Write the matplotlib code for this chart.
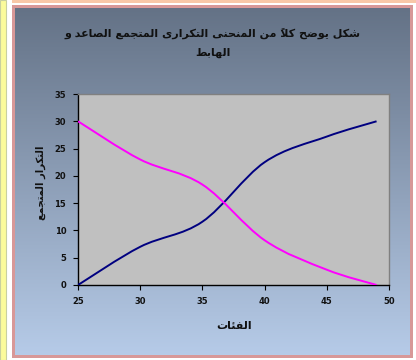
import numpy as np
import matplotlib
matplotlib.use("Agg")
import matplotlib.pyplot as plt
from matplotlib.path import Path
from matplotlib.patches import PathPatch, Rectangle

# ---------------- data ----------------
classes = [25, 30, 35, 40, 45, 49]
ascending = [0, 7, 11.6, 22.5, 27.2, 30]
descending = [30, 23, 18.4, 8.2, 2.8, 0]
x_ticks = [25, 30, 35, 40, 45, 50]
y_ticks = [0, 5, 10, 15, 20, 25, 30, 35]
title_lines = ["شكل يوضح كلاً من المنحنى التكرارى المتجمع الصاعد و", "الهابط"]
y_label = "التكرار المتجمع"
x_label = "الفئات"

# ---------------- simple Arabic shaping (presentation forms + visual order) ----------------
FORMS = {  # iso, fin, ini, med
    'ا': (0xFE8D, 0xFE8E, None, None),
    'أ': (0xFE83, 0xFE84, None, None),
    'ب': (0xFE8F, 0xFE90, 0xFE91, 0xFE92),
    'ة': (0xFE93, 0xFE94, None, None),
    'ت': (0xFE95, 0xFE96, 0xFE97, 0xFE98),
    'ج': (0xFE9D, 0xFE9E, 0xFE9F, 0xFEA0),
    'ح': (0xFEA1, 0xFEA2, 0xFEA3, 0xFEA4),
    'د': (0xFEA9, 0xFEAA, None, None),
    'ر': (0xFEAD, 0xFEAE, None, None),
    'ش': (0xFEB5, 0xFEB6, 0xFEB7, 0xFEB8),
    'ص': (0xFEB9, 0xFEBA, 0xFEBB, 0xFEBC),
    'ض': (0xFEBD, 0xFEBE, 0xFEBF, 0xFEC0),
    'ط': (0xFEC1, 0xFEC2, 0xFEC3, 0xFEC4),
    'ع': (0xFEC9, 0xFECA, 0xFECB, 0xFECC),
    'ف': (0xFED1, 0xFED2, 0xFED3, 0xFED4),
    'ك': (0xFED9, 0xFEDA, 0xFEDB, 0xFEDC),
    'ل': (0xFEDD, 0xFEDE, 0xFEDF, 0xFEE0),
    'م': (0xFEE1, 0xFEE2, 0xFEE3, 0xFEE4),
    'ن': (0xFEE5, 0xFEE6, 0xFEE7, 0xFEE8),
    'ه': (0xFEE9, 0xFEEA, 0xFEEB, 0xFEEC),
    'و': (0xFEED, 0xFEEE, None, None),
    'ى': (0xFEEF, 0xFEF0, None, None),
    'ي': (0xFEF1, 0xFEF2, 0xFEF3, 0xFEF4),
    'ئ': (0xFE89, 0xFE8A, 0xFE8B, 0xFE8C),
}
LAMALEF = {'ا': (0xFEFB, 0xFEFC), 'أ': (0xFEF7, 0xFEF8)}


def is_mark(c):
    return 0x064B <= ord(c) <= 0x0652


def shape(text):
    clusters = []
    for c in text:
        if is_mark(c) and clusters:
            clusters[-1][1].append(c)
        else:
            clusters.append([c, []])
    merged = []
    i = 0
    while i < len(clusters):
        b, m = clusters[i]
        if b == 'ل' and not m and i + 1 < len(clusters) and clusters[i + 1][0] in LAMALEF:
            merged.append(['LA' + clusters[i + 1][0], clusters[i + 1][1]])
            i += 2
        else:
            merged.append([b, m])
            i += 1

    def joins_next(b):
        if b.startswith('LA'):
            return False
        return b in FORMS and FORMS[b][2] is not None

    def joinable(b):
        return b.startswith('LA') or b in FORMS

    glyphs = []
    for k, (b, m) in enumerate(merged):
        prev = merged[k - 1][0] if k > 0 else None
        nxt = merged[k + 1][0] if k + 1 < len(merged) else None
        pj = prev is not None and joins_next(prev)
        nj = nxt is not None and joinable(nxt) and joins_next(b)
        if b.startswith('LA'):
            g = chr(LAMALEF[b[2:]][1 if pj else 0])
        elif b in FORMS:
            iso, fin, ini, med = FORMS[b]
            if pj and nj:
                g = chr(med)
            elif pj:
                g = chr(fin)
            elif nj:
                g = chr(ini)
            else:
                g = chr(iso)
        else:
            g = b
        glyphs.append(''.join(m) + g)
    return ''.join(reversed(glyphs))


# ---------------- figure ----------------
W, H = 416, 360
fig = plt.figure(figsize=(W / 100, H / 100), dpi=100)
fig.patch.set_facecolor('white')


def fr(x0, y0, x1, y1):
    """pixel box (top-left origin) -> figure fraction rect"""
    return [x0 / W, 1 - y1 / H, (x1 - x0) / W, (y1 - y0) / H]


fig.add_artist(Rectangle((0, 0), 6 / W, 1, transform=fig.transFigure, zorder=-10,
                         facecolor='#fbfb9c', edgecolor='#c8d0a0', lw=0.8))
fig.add_artist(Rectangle((12 / W, 1 - 3 / H), 1 - 12 / W, 3 / H, transform=fig.transFigure,
                         zorder=-10, facecolor='#f8c8a8', edgecolor='none'))
b = fr(12, 5, 413, 358)
fig.add_artist(Rectangle((b[0], b[1]), b[2], b[3], transform=fig.transFigure, zorder=-10,
                         facecolor='#d89898', edgecolor='none'))

# gradient background
bg = fig.add_axes(fr(15, 8, 410, 355))
bg.set_zorder(-5)
top = np.array([100, 114, 134]) / 255
bot = np.array([182, 203, 232]) / 255
t = np.linspace(0, 1, 256)[:, None]
grad = top[None, :] * (1 - t) + bot[None, :] * t
bg.imshow(grad[:, None, :], aspect='auto', extent=[0, 1, 0, 1])
bg.set_axis_off()

# main axes
ax = fig.add_axes(fr(78, 94, 389, 285))
ax.set_zorder(1)
ax.set_facecolor('#c0c0c0')
ax.set_xlim(25, 50)
ax.set_ylim(0, 35)
ax.set_xticks(x_ticks)
ax.set_yticks(y_ticks)
for s in ['top', 'right']:
    ax.spines[s].set_color('#808080')
    ax.spines[s].set_linewidth(1.0)
for s in ['left', 'bottom']:
    ax.spines[s].set_color('black')
    ax.spines[s].set_linewidth(1.0)
ax.tick_params(axis='both', direction='out', length=3.5, width=0.8, color='black',
               labelsize=6, pad=5)
for lab in ax.get_xticklabels() + ax.get_yticklabels():
    lab.set_fontweight('bold')
    lab.set_color('#111111')


def smooth_path(xs, ys):
    pts = np.column_stack([xs, ys]).astype(float)
    n = len(pts)
    verts = [pts[0]]
    codes = [Path.MOVETO]
    for i in range(n - 1):
        p0 = pts[i - 1] if i > 0 else pts[i]
        p1 = pts[i]
        p2 = pts[i + 1]
        p3 = pts[i + 2] if i + 2 < n else pts[i + 1]
        c1 = p1 + (p2 - p0) / 6.0
        c2 = p2 - (p3 - p1) / 6.0
        verts += [c1, c2, p2]
        codes += [Path.CURVE4] * 3
    return Path(np.array(verts), codes)


for ys, col in [(ascending, '#000080'), (descending, '#ff00ff')]:
    ax.add_patch(PathPatch(smooth_path(classes, ys), facecolor='none', edgecolor=col,
                           lw=1.4, transform=ax.transData, zorder=3))

# texts
fig.text(213 / W, 1 - 33 / H, shape(title_lines[0]), ha='center', va='center',
         fontsize=8, fontweight='bold', color='#111111', family='DejaVu Sans')
fig.text(213 / W, 1 - 53 / H, shape(title_lines[1]), ha='center', va='center',
         fontsize=8, fontweight='bold', color='#111111', family='DejaVu Sans')
fig.text(41 / W, 1 - 183 / H, shape(y_label), ha='center', va='center', rotation=90,
         fontsize=7.2, fontweight='bold', color='#111111', family='DejaVu Sans')
fig.text(234 / W, 1 - 326 / H, shape(x_label), ha='center', va='center',
         fontsize=8, fontweight='bold', color='#111111', family='DejaVu Sans')

fig.savefig('out.png', dpi=100)
